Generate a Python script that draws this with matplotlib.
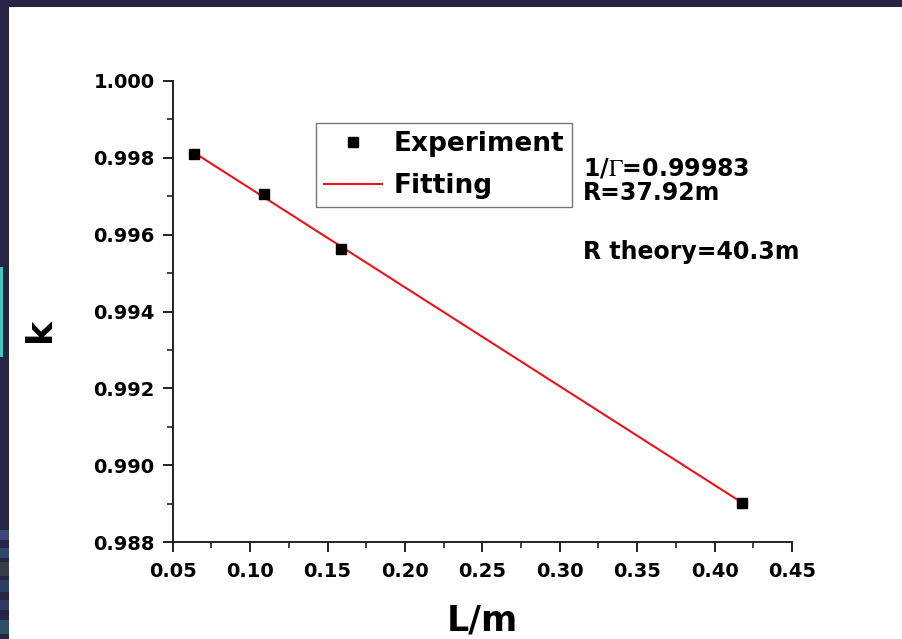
import numpy as np
import matplotlib.pyplot as plt
from matplotlib.patches import Rectangle
from matplotlib.ticker import MultipleLocator, FormatStrFormatter

# measured cavity length vs. ratio k
L = [0.064, 0.109, 0.159, 0.418]
k = [0.99810, 0.99705, 0.99562, 0.98903]

note_gamma = r'1/$\mathrm{\Gamma}$=0.99983'
note_r = 'R=37.92m'
note_theory = 'R theory=40.3m'

plt.rcParams['font.family'] = ['DejaVu Sans']
plt.rcParams['mathtext.fontset'] = 'stix'

W, H = 903, 639
fig = plt.figure(figsize=(W / 100, H / 100), dpi=100, facecolor='#262445')

# white slide panel
fig.patches.append(Rectangle((9 / W, 0), 1 - 9 / W, 1 - 7 / H,
                             transform=fig.transFigure, facecolor='white',
                             edgecolor='none', zorder=-5))
# small cyan accent on the left edge
fig.add_artist(plt.Line2D([1.5 / W, 1.5 / W], [1 - 355 / H, 1 - 268 / H],
                          color='#3fd8c8', lw=2, transform=fig.transFigure))
# bluish streaks of the slide background at lower left
for y0, h, c in [(530, 10, '#3c4878'), (548, 10, '#30466e'), (562, 14, '#343f44'),
                 (580, 12, '#2c3c62'), (600, 10, '#2f3866'), (620, 14, '#2c5068')]:
    fig.patches.append(Rectangle((0, 1 - (y0 + h) / H), 9 / W, h / H,
                                 transform=fig.transFigure, facecolor=c,
                                 edgecolor='none', zorder=-6))

ax = fig.add_axes([172.7 / W, 1 - 542.3 / H, (792 - 172.7) / W, (542.3 - 80.7) / H])
ax.set_facecolor('none')

# straight-line fit through the measurements
coef = np.polyfit(L, k, 1)
xf = np.array([min(L), max(L)])
ax.plot(xf, np.polyval(coef, xf), color='#e8141c', lw=1.5, label='Fitting', zorder=2)
ax.plot(L, k, ls='none', marker='s', ms=7, color='black', label='Experiment', zorder=3)

ax.set_xlim(0.05, 0.45)
ax.set_ylim(0.988, 1.000)
ax.xaxis.set_major_locator(MultipleLocator(0.05))
ax.xaxis.set_minor_locator(MultipleLocator(0.025))
ax.yaxis.set_major_locator(MultipleLocator(0.002))
ax.yaxis.set_minor_locator(MultipleLocator(0.001))
ax.xaxis.set_major_formatter(FormatStrFormatter('%.2f'))
ax.yaxis.set_major_formatter(FormatStrFormatter('%.3f'))

for s in ['top', 'right']:
    ax.spines[s].set_visible(False)
for s in ['left', 'bottom']:
    ax.spines[s].set_linewidth(1.4)
    ax.spines[s].set_color('#222222')

ax.tick_params(which='major', direction='out', length=7, width=1.4, color='#222222',
               labelsize=14)
ax.tick_params(axis='x', which='major', pad=7)
ax.tick_params(axis='y', which='major', pad=6)
ax.tick_params(which='minor', direction='out', length=4, width=1.2, color='#222222')
for lab in ax.get_xticklabels() + ax.get_yticklabels():
    lab.set_fontweight('bold')

ax.set_xlabel('L/m', fontsize=25, fontweight='bold')
ax.xaxis.set_label_coords(0.5, -(620 - 542.3) / (542.3 - 80.7))
ax.xaxis.label.set_va('center')
fig.text(40 / W, 1 - 330 / H, 'k', fontsize=26, fontweight='bold',
         rotation=90, ha='center', va='center')

handles, labels = ax.get_legend_handles_labels()
leg = ax.legend(handles[::-1], labels[::-1], loc='upper left',
                bbox_to_anchor=((315.7 - 172.7) / (792 - 172.7), (542.3 - 123.3) / (542.3 - 80.7)),
                prop={'weight': 'bold', 'size': 19}, frameon=True, fancybox=False,
                edgecolor='#555555', handlelength=2.2, handletextpad=0.45,
                borderpad=0.3, labelspacing=0.6, borderaxespad=0)
leg.get_frame().set_linewidth(1.0)

tk = dict(fontsize=17, fontweight='bold', ha='left', va='center', transform=fig.transFigure)
fig.text(583 / W, 1 - 168 / H, note_gamma, **tk)
fig.text(583 / W, 1 - 193 / H, note_r, **tk)
fig.text(583 / W, 1 - 252 / H, note_theory, **tk)

fig.savefig('out.png', dpi=100, facecolor=fig.get_facecolor())
